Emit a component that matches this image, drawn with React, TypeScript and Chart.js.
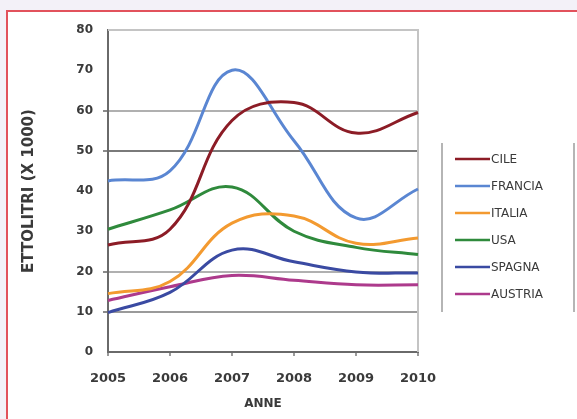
import React, { useEffect, useRef } from "react";
import { Chart, registerables } from "chart.js";

Chart.register(...registerables);

const years = ["2005", "2006", "2007", "2008", "2009", "2010"];
const seriesNames = ["CILE", "FRANCIA", "ITALIA", "USA", "SPAGNA", "AUSTRIA"];
const cile = [26.6, 30.5, 57.5, 62, 54.4, 59.5];
const francia = [42.5, 45, 70, 52.5, 33.3, 40.5];
const italia = [14.5, 17.5, 32, 33.8, 27, 28.3];
const usa = [30.5, 35.3, 41, 30, 26, 24.2];
const spagna = [9.8, 14.8, 25.3, 22.4, 19.9, 19.6];
const austria = [12.8, 16.2, 19, 17.8, 16.7, 16.7];
const seriesColors = ["#8c1c26", "#5a86d2", "#f39a30", "#2f8a3c", "#3a4aa2", "#ad3a8c"];
const yTicks = [0, 10, 20, 30, 40, 50, 60, 70, 80];
const gridValues = [10, 20, 50, 60];

const FONT = "'DejaVu Sans', Verdana, sans-serif";

const legendPlugin = {
  id: "sideLegend",
  afterDraw(chart: any) {
    const ctx = chart.ctx;
    ctx.save();
    ctx.strokeStyle = "#b5b5b5";
    ctx.lineWidth = 2;
    ctx.beginPath();
    ctx.moveTo(442, 143);
    ctx.lineTo(442, 312);
    ctx.moveTo(574, 143);
    ctx.lineTo(574, 312);
    ctx.stroke();
    chart.data.datasets.forEach((ds: any, i: number) => {
      const y = 159 + i * 27;
      ctx.strokeStyle = ds.borderColor;
      ctx.lineWidth = 2.5;
      ctx.beginPath();
      ctx.moveTo(455, y);
      ctx.lineTo(490, y);
      ctx.stroke();
      ctx.fillStyle = "#3a3a3a";
      ctx.font = `12px ${FONT}`;
      ctx.textBaseline = "middle";
      ctx.textAlign = "left";
      ctx.fillText(ds.label, 491, y + 0.5);
    });
    ctx.restore();
  },
};

const frameplugin = {
  id: "plotFrame",
  beforeDatasetsDraw(chart: any) {
    const { ctx, chartArea } = chart;
    ctx.save();
    ctx.strokeStyle = "#c4c4c4";
    ctx.lineWidth = 2;
    ctx.beginPath();
    ctx.moveTo(chartArea.left, chartArea.top);
    ctx.lineTo(chartArea.right, chartArea.top);
    ctx.lineTo(chartArea.right, chartArea.bottom);
    ctx.stroke();
    ctx.restore();
  },
};

export default function App() {
  const canvasRef = useRef<HTMLCanvasElement | null>(null);

  useEffect(() => {
    document.body.style.margin = "0";
    const canvas = canvasRef.current;
    if (!canvas) return;
    const values = [cile, francia, italia, usa, spagna, austria];
    const chart = new Chart(canvas, {
      type: "line",
      data: {
        labels: years,
        datasets: seriesNames.map((name, i) => ({
          label: name,
          data: values[i],
          borderColor: seriesColors[i],
          backgroundColor: seriesColors[i],
          borderWidth: 3,
          pointRadius: 0,
          tension: 0.4,
          fill: false,
        })),
      },
      options: {
        animation: false,
        responsive: false,
        layout: { padding: { left: 0, top: 30, right: 159, bottom: 0 } },
        plugins: { legend: { display: false }, tooltip: { enabled: false } },
        scales: {
          x: {
            offset: false,
            afterFit: (s: any) => {
              s.height = 67;
            },
            border: { display: true, color: "#6a6a6a", width: 2 },
            grid: {
              color: (c: any) => (c.index === 5 ? "#c4c4c4" : "rgba(0,0,0,0)"),
              lineWidth: 2,
              tickColor: "#9a9a9a",
              tickLength: 4,
            },
            ticks: {
              color: "#3a3a3a",
              font: { family: FONT, size: 13, weight: "bold" },
              padding: 15,
              maxRotation: 0,
            },
            title: {
              display: true,
              text: "ANNE",
              color: "#3a3a3a",
              font: { family: FONT, size: 12, weight: "bold" },
              padding: { top: 0, bottom: 8 },
            },
          },
          y: {
            min: 0,
            max: 80,
            afterFit: (s: any) => {
              s.width = 108;
            },
            afterBuildTicks: (s: any) => {
              s.ticks = yTicks.map((v) => ({ value: v }));
            },
            border: { display: true, color: "#6a6a6a", width: 2 },
            grid: {
              color: (c: any) => {
                const v = c.tick ? c.tick.value : null;
                if (v === 50) return "#7a7a7a";
                if (v === 10) return "#9a9a9a";
                if (gridValues.includes(v)) return "#b0b0b0";
                return "rgba(0,0,0,0)";
              },
              lineWidth: 2,
              tickColor: (c: any) => (c.tick && gridValues.includes(c.tick.value) ? "#8a8a8a" : "rgba(0,0,0,0)"),
              tickLength: 5,
            },
            ticks: {
              color: "#3a3a3a",
              font: { family: FONT, size: 12, weight: "bold" },
              padding: 10,
            },
            title: {
              display: true,
              text: "ETTOLITRI (X 1000)",
              color: "#3a3a3a",
              font: { family: FONT, size: 15, weight: "bold" },
              padding: { top: 20, bottom: 0 },
            },
          },
        },
      },
      plugins: [frameplugin, legendPlugin],
    });
    return () => chart.destroy();
  }, []);

  return (
    <div style={{ position: "relative", width: 577, height: 419, background: "#f3f1f8", overflow: "hidden" }}>
      <div
        style={{
          position: "absolute",
          left: 6,
          top: 10,
          right: -20,
          bottom: -20,
          background: "#ffffff",
          borderLeft: "2px solid #e2525c",
          borderTop: "2px solid #e2525c",
        }}
      />
      <canvas ref={canvasRef} width={577} height={419} style={{ position: "absolute", left: 0, top: 0 }} />
    </div>
  );
}
